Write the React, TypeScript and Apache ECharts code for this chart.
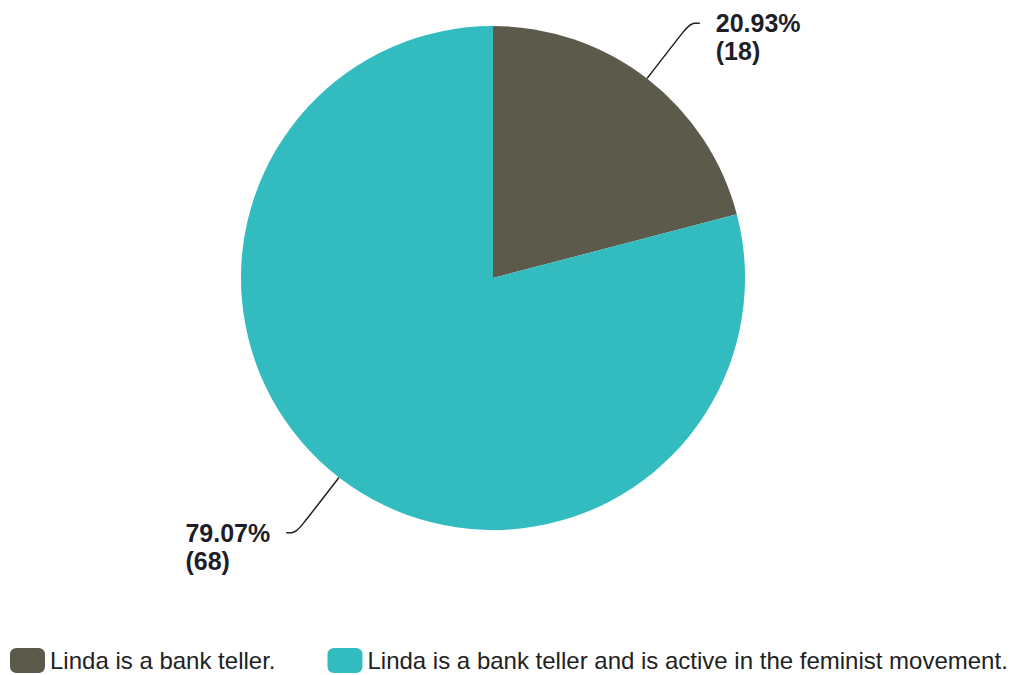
import React, { useEffect, useRef } from "react";
import * as echarts from "echarts";

const categories = [
  "Linda is a bank teller.",
  "Linda is a bank teller and is active in the feminist movement.",
];
const counts = [18, 68];
const percents = ["20.93%", "79.07%"];
const colors = ["#5c5a4b", "#33bcbf"];

const FONT = "Liberation Sans, Arial, sans-serif";

export default function App() {
  const ref = useRef<HTMLDivElement>(null);
  useEffect(() => {
    const chart = echarts.init(ref.current!, null, { renderer: "svg" });
    chart.setOption({
      animation: false,
      textStyle: { fontFamily: FONT },
      legend: {
        left: 10,
        top: 648,
        width: 1004,
        padding: 0,
        itemWidth: 35,
        itemHeight: 25,
        itemGap: 52,
        icon: "roundRect",
        textStyle: { fontSize: 24, color: "#222", fontFamily: FONT },
        data: categories,
      },
      series: [
        {
          type: "pie",
          center: [493, 278],
          radius: [0, 252],
          startAngle: 90,
          clockwise: true,
          data: categories.map((c, i) => ({
            name: c,
            value: counts[i],
            itemStyle: { color: colors[i] },
          })),
          label: {
            show: true,
            formatter: (p: any) =>
              `{s| }\n{a|${percents[p.dataIndex]}}\n{a|(${counts[p.dataIndex]})}`,
            fontSize: 25,
            fontWeight: "bold",
            color: "#1e1e28",
            lineHeight: 28,
            fontFamily: FONT,
            distanceToLabelLine: 16,
            rich: {
              s: { fontSize: 25, lineHeight: 28 },
              a: {
                fontSize: 25,
                fontWeight: "bold",
                color: "#1e1e28",
                lineHeight: 28,
                align: "left",
                fontFamily: FONT,
              },
            },
          },
          labelLine: {
            show: true,
            length: 70,
            length2: 10,
            smooth: 0.4,
            lineStyle: { color: "#222", width: 1.5 },
          },
          emphasis: { disabled: true },
        },
      ],
    });
    return () => chart.dispose();
  }, []);
  return (
    <div
      ref={ref}
      style={{ position: "fixed", left: 0, top: 0, width: 1014, height: 675, background: "#fff" }}
    />
  );
}
